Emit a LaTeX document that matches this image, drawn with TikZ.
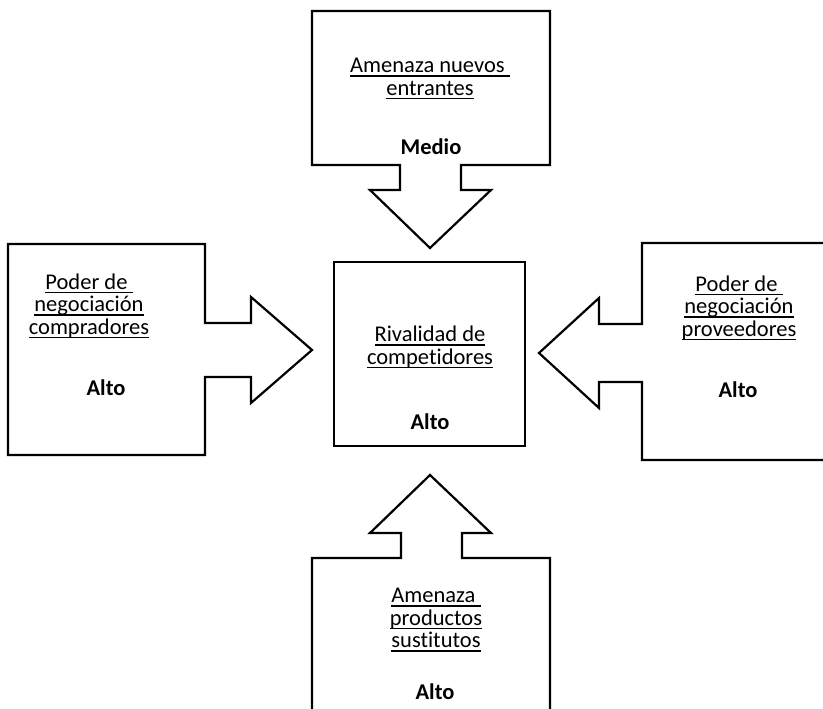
\documentclass[tikz,border=0pt]{standalone}
\usepackage{fontspec}
\setmainfont{Carlito}[Ligatures={NoCommon}]
\newsavebox\myulbox
\newcommand\uln[1]{\sbox\myulbox{#1}\rlap{\rule[-4pt]{\wd\myulbox}{1.5pt}}\usebox\myulbox}
\tikzset{
  blockarrow/.style={draw=black, line width=2.2pt, line join=miter, fill=white},
  lbl/.style={font=\fontsize{22.5}{22.5}\selectfont, align=center, inner sep=0pt},
  val/.style={font=\fontsize{22.5}{22.5}\selectfont\bfseries, inner sep=0pt}
}
\begin{document}
\begin{tikzpicture}[x=1pt,y=-1pt]
\useasboundingbox (0,0) rectangle (823,709);
\clip (0,0) rectangle (823,709);
% top: Amenaza nuevos entrantes
\draw[blockarrow] (312,11) -- (550,11) -- (550,165) -- (461,165) -- (461,190) -- (491,190)
  -- (430,248) -- (370,190) -- (400,190) -- (400,165) -- (312,165) -- cycle;
% left: compradores
\draw[blockarrow] (8,244) -- (205,244) -- (205,323) -- (251,323) -- (251,297) -- (312,350)
  -- (251,403) -- (251,377) -- (205,377) -- (205,455) -- (8,455) -- cycle;
% right: proveedores
\draw[blockarrow] (642,243) -- (835,243) -- (835,460) -- (642,460) -- (642,382) -- (599,382)
  -- (599,408) -- (539,353) -- (599,298) -- (599,324) -- (642,324) -- cycle;
% bottom: sustitutos
\draw[blockarrow] (430,475) -- (491,533) -- (462,533) -- (462,558) -- (550,558) -- (550,725)
  -- (312,725) -- (312,558) -- (401,558) -- (401,533) -- (370,533) -- cycle;
% center
\draw[blockarrow] (334,262) rectangle (525,446);

\node[lbl] (topT) at (430,79) {\uln{Amenaza nuevos }\\\uln{entrantes}};
\node[val] (topV) at (431,147) {Medio};
\node[lbl] (leftT) at (89,306) {\uln{Poder de }\\\uln{negociación}\\\uln{compradores}};
\node[val] (leftV) at (106,388) {Alto};
\node[lbl] (midT) at (430,347) {\uln{Rivalidad de}\\\uln{competidores}};
\node[val] (midV) at (430,422) {Alto};
\node[lbl] (rightT) at (739,308) {\uln{Poder de }\\\uln{negociación}\\\uln{proveedores}};
\node[val] (rightV) at (738,390) {Alto};
\node[lbl] (botT) at (436,620) {\uln{Amenaza }\\\uln{productos}\\\uln{sustitutos}};
\node[val] (botV) at (435,692) {Alto};
\end{tikzpicture}
\end{document}
